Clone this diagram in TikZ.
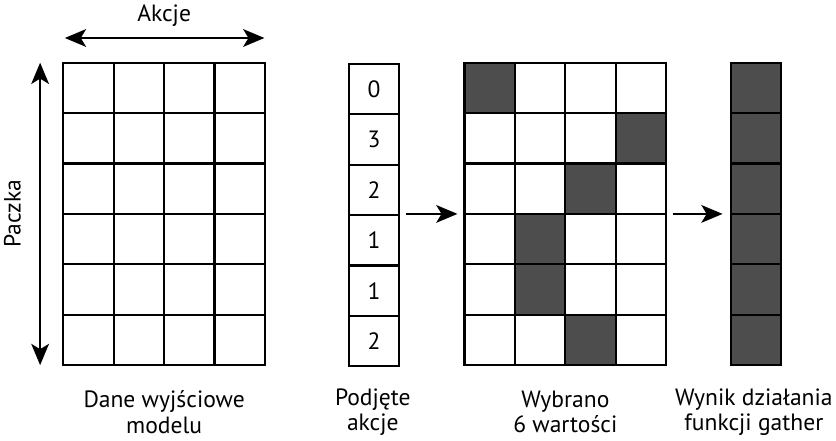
\documentclass[tikz,border=0pt]{standalone}
\usepackage{fontspec}
\setmainfont{PT Sans}
\usetikzlibrary{arrows.meta}
\definecolor{cEdge}{RGB}{0,0,0}
\definecolor{cPick}{RGB}{77,77,77}

\begin{document}
\begin{tikzpicture}[
  x=1cm,y=1cm, font=\fontsize{13.3}{14.5}\selectfont, color=cEdge,
  cell/.style   ={draw=cEdge, line width=1.3pt},
  picked/.style ={fill=cPick, draw=cEdge, line width=1.3pt},
  idx/.style    ={draw=cEdge, line width=1.3pt, minimum size=1cm, inner sep=0pt, anchor=north west},
  flow/.style   ={-{Stealth[length=12pt,width=10pt,inset=3pt]}, line width=1.2pt},
  span/.style   ={{Stealth[length=12pt,width=10pt,inset=3pt]}-{Stealth[length=12pt,width=10pt,inset=3pt]}, line width=1.2pt},
  caption/.style={align=center},
]
\useasboundingbox (-1.256,-7.486) rectangle (15.33,1.244);

% ----- geometry --------------------------------------------------------
\def\xA{5.64}\def\xS{7.96}\def\xG{13.24}

% ----- model output ----------------------------------------------------
\foreach \r in {0,...,5}
  \foreach \c in {0,...,3}
    \draw[cell] (\c,-\r) rectangle ++(1,-1);

\coordinate (akL) at (0.03,0.49);
\coordinate (akR) at (3.99,0.49);
\draw[span] (akL) -- (akR);
\node (akcje) at (2,0.93) {Akcje};

\coordinate (pcT) at (-0.46,0);
\coordinate (pcB) at (-0.46,-6);
\draw[span] (pcT) -- (pcB);
\node[rotate=90] (paczka) at (-1.01,-3) {Paczka};

% ----- actions taken ---------------------------------------------------
\foreach \a [count=\r from 0] in {0,3,2,1,1,2}
  \node[idx] (act\r) at (\xA,-\r) {\a};

% ----- selected values -------------------------------------------------
\foreach \r in {0,...,5}
  \foreach \c in {0,...,3}
    \draw[cell] (\xS+\c,-\r) rectangle ++(1,-1);
\foreach \r/\k in {0/0,1/3,2/2,3/1,4/1,5/2}
  \draw[picked] (\xS+\k,-\r) rectangle ++(1,-1);

% ----- gather result ---------------------------------------------------
\foreach \r in {0,...,5}
  \draw[picked] (\xG,-\r) rectangle ++(1,-1);

% ----- arrows -----------------------------------------------------------
\coordinate (f1a) at (6.80,-3);
\coordinate (f1b) at (7.82,-3);
\draw[flow] (f1a) -- (f1b);
\coordinate (f2a) at (12.09,-3);
\coordinate (f2b) at (13.08,-3);
\draw[flow] (f2a) -- (f2b);

% ----- captions ---------------------------------------------------------
\node[caption] (capOut) at (2,-6.93)     {Dane wyjściowe\\modelu};
\node[caption] (capAct) at (6.14,-6.93)  {Podjęte\\akcje};
\node[caption] (capSel) at (9.96,-6.93)  {Wybrano\\6 wartości};
\node[caption] (capRes) at (13.70,-6.93) {Wynik działania\\funkcji gather};

\end{tikzpicture}
\end{document}
